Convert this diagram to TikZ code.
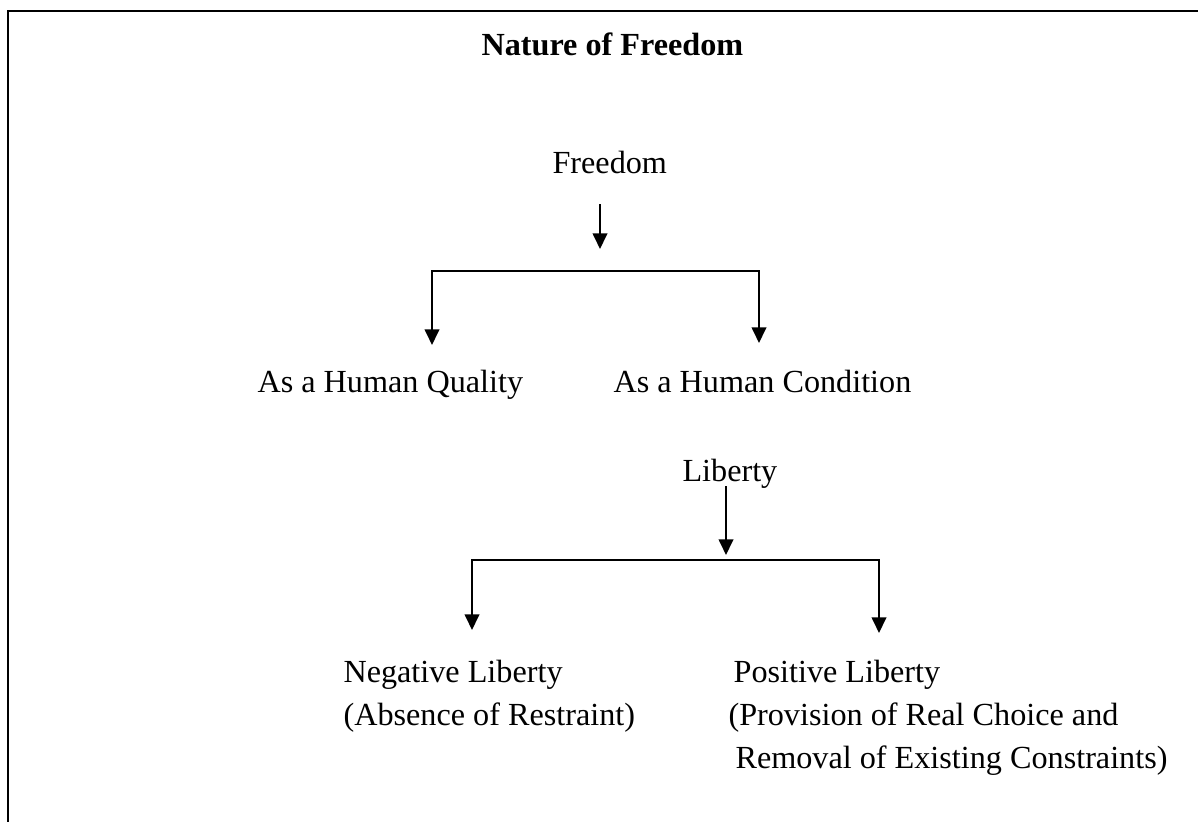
\documentclass[tikz,border=0pt]{standalone}
\usepackage{fontspec}
\setmainfont{Liberation Serif}
\usepackage{tikz}
\usetikzlibrary{arrows.meta,positioning}
\tikzstyle{arrow} = [line width=0.75pt,-{Triangle[length=5.8pt,width=5.4pt]}]
\tikzstyle{labeltext} = [anchor=base west, inner sep=0pt, align=left, font=\fontsize{12}{16}\selectfont]
\tikzstyle{titletext} = [labeltext, font=\fontsize{12}{16}\selectfont\bfseries]

\begin{document}
\begin{tikzpicture}[x=0.3727pt, y=-0.3727pt]
\useasboundingbox (0,0) rectangle (1198,821);
% Frame
\draw[line width=1.1pt] (8,900) -- (8,11) -- (1250,11);

% Texts
\node[titletext] (title) at (481,55) {Nature of Freedom};
\node[labeltext] (freedom) at (552,173) {Freedom};
\node[labeltext] (quality) at (257,392) {As a Human Quality};
\node[labeltext] (condition) at (613,392) {As a Human Condition};
\node[labeltext] (liberty) at (682,481) {Liberty};
\node[labeltext] (negative) at (343,725) {Negative Liberty\\(Absence of Restraint)};
\node[labeltext] (positive) at (728,768) {\hspace*{1.9pt}Positive Liberty\\(Provision of Real Choice and\\\hspace*{2.6pt}Removal of Existing Constraints)};

% Split points
\coordinate (ftop) at (600,204);
\coordinate (fsplit) at (600,249);
\coordinate (qtip) at (432,345);
\coordinate (ctip) at (759,343);
\coordinate (fbar) at (759,271);
\coordinate (ltop) at (726,486);
\coordinate (lsplit) at (726,555);
\coordinate (ntip) at (472,630);
\coordinate (ptip) at (879,633);
\coordinate (lbar) at (879,560);

% Connectors
\draw[arrow] (ftop) -- (fsplit);
\draw[arrow, {Triangle[length=5.8pt,width=5.4pt]}-{Triangle[length=5.8pt,width=5.4pt]}] (qtip) |- (fbar) -- (ctip);
\draw[arrow] (ltop) -- (lsplit);
\draw[arrow, {Triangle[length=5.8pt,width=5.4pt]}-{Triangle[length=5.8pt,width=5.4pt]}] (ntip) |- (lbar) -- (ptip);
\end{tikzpicture}
\end{document}
